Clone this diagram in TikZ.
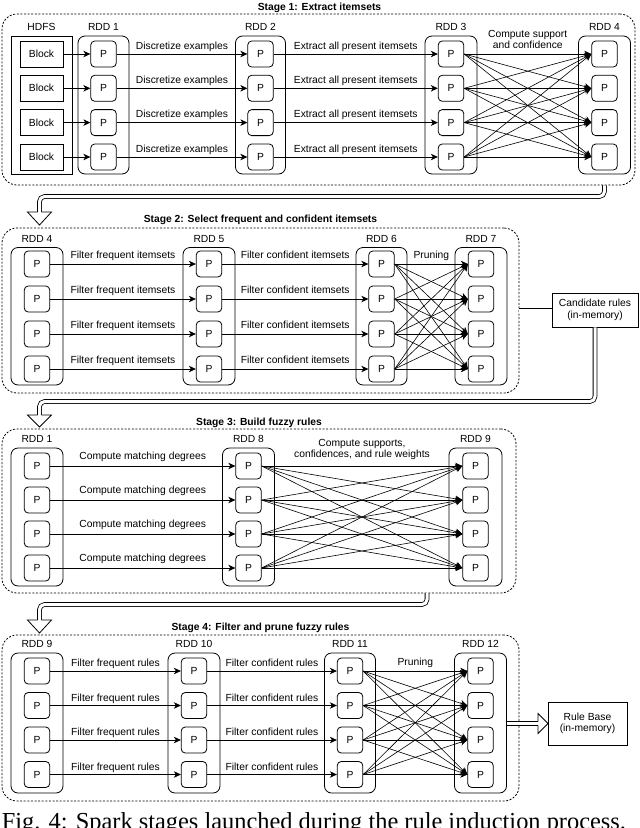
\documentclass[tikz,border=0pt]{standalone}
\usepackage{fontspec}
\setmainfont{Liberation Sans}
\newfontfamily\capfont{Liberation Serif}
\usetikzlibrary{arrows.meta,calc}
\newcommand\rddcolumn[7]{%
  \node[rddbox, minimum width=#3pt, minimum height=#5pt] (#1) at (#2,#4) {};
  \node[lbl] (#1-l) at ($(#1.north)+(0,-5)$) {#6};
  \foreach \yy [count=\ii] in {#7} {\node[pbox] (#1p\ii) at (#2,\yy) {P};}
}
\newcommand\downhead[3]{%
  \draw[fill=white, line join=miter] (#1-1.9,#2) -- (#1-12,#2) -- (#1,#3) -- (#1+12,#2) -- (#1+1.9,#2);}
\newcommand\righthead[3]{%
  \draw[fill=white, line join=miter] (#1,#2-1.9) -- (#1,#2-10) -- (#3,#2) -- (#1,#2+10) -- (#1,#2+1.9);}
\begin{document}
\begin{tikzpicture}[x=1pt,y=-1pt,
  font=\fontsize{10.3}{11.5}\selectfont, line width=0.8pt,
  pbox/.style={draw, rounded corners=4pt, minimum width=25.5pt, minimum height=26pt, inner sep=0pt},
  rddbox/.style={draw, rounded corners=7pt, inner sep=0pt},
  blockbox/.style={draw, minimum width=43pt, minimum height=26pt, inner sep=0pt},
  plainbox/.style={draw, inner sep=0pt, align=center},
  stagebox/.style={draw, dash pattern=on 2pt off 1.6pt, rounded corners=15pt, inner sep=0pt},
  lbl/.style={inner sep=0pt, anchor=base},
  title/.style={inner sep=0pt, anchor=base, font=\bfseries\fontsize{10.3}{12}\selectfont},
  flow/.style={-{Stealth[length=7pt,width=6.5pt,inset=2pt]}},
  cross/.style={line width=0.6pt, -{Stealth[length=7pt,width=6.5pt,inset=2pt]}},
  dbl/.style={double, double distance=3pt, rounded corners=5pt}]
\fill[white] (0,0) rectangle (640,828);
\useasboundingbox (0,0) rectangle (640,828);

% ---------------- Stage 1
\node[stagebox, minimum width=633pt, minimum height=171pt] (s1) at (318.5,99.5) {};
\node[title] (t1) at (319.5,10) {Stage 1: Extract itemsets};
\node[plainbox, minimum width=61pt, minimum height=138pt] (hdfs) at (41.5,105) {};
\node[lbl] (hdfs-l) at ($(hdfs.north)+(0,-5)$) {HDFS};
\foreach \y [count=\i] in {54,88.3,122.6,157} {\node[blockbox] (blk\i) at (41.5,\y) {Block};}
\rddcolumn{a1}{103.5}{51}{105}{138}{RDD 1}{54,88.3,122.6,157}
\rddcolumn{a2}{260.5}{50}{105}{138}{RDD 2}{54,88.3,122.6,157}
\rddcolumn{a3}{451}{52}{105}{138}{RDD 3}{54,88.3,122.6,157}
\rddcolumn{a4}{604.5}{52}{105}{138}{RDD 4}{54,88.3,122.6,157}
\foreach \i in {1,...,4}{
  \draw[flow] (blk\i.east) -- (a1p\i.west);
  \draw[flow] (a1p\i.east) -- node[lbl, yshift=5pt]{Discretize examples} (a2p\i.west);
  \draw[flow] (a2p\i.east) -- node[lbl, yshift=5pt]{Extract all present itemsets} (a3p\i.west);
  \foreach \j in {1,...,4}{\draw[cross] (a3p\i.east) -- (a4p\j.west);}
}
\path (a3p1.east) -- node[lbl, yshift=17pt]{Compute support} node[lbl, yshift=6pt]{and confidence} (a4p1.west);

% ---------------- Stage 2
\node[stagebox, minimum width=517pt, minimum height=165pt] (s2) at (260.5,310.5) {};
\node[title] (t2) at (260.5,222) {Stage 2: Select frequent and confident itemsets};
\rddcolumn{b1}{37}{52}{316.25}{137.5}{RDD 4}{264,299,334,369}
\rddcolumn{b2}{209}{52}{316.25}{137.5}{RDD 5}{264,299,334,369}
\rddcolumn{b3}{381.5}{51}{316.25}{137.5}{RDD 6}{264,299,334,369}
\rddcolumn{b4}{481}{52}{316.25}{137.5}{RDD 7}{264,299,334,369}
\foreach \i in {1,...,4}{
  \draw[flow] (b1p\i.east) -- node[lbl, yshift=5.5pt]{Filter frequent itemsets} (b2p\i.west);
  \draw[flow] (b2p\i.east) -- node[lbl, yshift=5.5pt]{Filter confident itemsets} (b3p\i.west);
  \foreach \j in {1,...,4}{\draw[cross] (b3p\i.east) -- (b4p\j.west);}
}
\path (b3p1.east) -- node[lbl, yshift=5.5pt]{Pruning} (b4p1.west);
\node[plainbox, minimum width=86pt, minimum height=34pt] (cand) at (595,310) {Candidate rules\\(in-memory)};
\draw[dbl] (s2.east |- cand.west) -- (cand.west);

% ---------------- Stage 3
\node[stagebox, minimum width=514pt, minimum height=164pt] (s3) at (259,511) {};
\node[title] (t3) at (259,425.5) {Stage 3: Build fuzzy rules};
\rddcolumn{c1}{37}{52}{517}{138}{RDD 1}{466,500,534,568}
\rddcolumn{c2}{248.5}{52}{517}{138}{RDD 8}{466,500,534,568}
\rddcolumn{c3}{475.5}{53}{517}{138}{RDD 9}{466,500,534,568}
\foreach \i in {1,...,4}{
  \draw[flow] (c1p\i.east) -- node[lbl, yshift=7pt]{Compute matching degrees} (c2p\i.west);
  \foreach \j in {1,...,4}{\draw[cross] (c2p\i.east) -- (c3p\j.west);}
}
\path (c2p1.east) -- node[lbl, yshift=19.5pt]{Compute supports,} node[lbl, yshift=8.5pt]{confidences, and rule weights} (c3p1.west);

% ---------------- Stage 4
\node[stagebox, minimum width=517pt, minimum height=166pt] (s4) at (260.5,718) {};
\node[title] (t4) at (260.5,630) {Stage 4: Filter and prune fuzzy rules};
\rddcolumn{d1}{37}{52}{723}{140}{RDD 9}{671,705.5,740,774.5}
\rddcolumn{d2}{194}{52}{723}{140}{RDD 10}{671,705.5,740,774.5}
\rddcolumn{d3}{350}{51}{723}{140}{RDD 11}{671,705.5,740,774.5}
\rddcolumn{d4}{480.5}{52}{723}{140}{RDD 12}{671,705.5,740,774.5}
\foreach \i in {1,...,4}{
  \draw[flow] (d1p\i.east) -- node[lbl, yshift=4.5pt]{Filter frequent rules} (d2p\i.west);
  \draw[flow] (d2p\i.east) -- node[lbl, yshift=4.5pt]{Filter confident rules} (d3p\i.west);
  \foreach \j in {1,...,4}{\draw[cross] (d3p\i.east) -- (d4p\j.west);}
}
\path (d3p1.east) -- node[lbl, yshift=5.5pt]{Pruning} (d4p1.west);
\node[plainbox, minimum width=79pt, minimum height=43pt] (rb) at (587.5,723.5) {Rule Base\\(in-memory)};

% ---------------- stage connectors (flex arrows)
\draw[dbl] (a4 |- s1.south) |- (39.5,196.5) -- (39.5,212);
\downhead{39.5}{212}{225}
\draw[dbl] (cand.south) |- (39.5,401.5) -- (39.5,415);
\downhead{39.5}{415}{427}
\coordinate (j3) at (427,593);
\draw[dbl] (j3) |- (39.5,604.5) -- (39.5,620);
\downhead{39.5}{620}{633}
\coordinate (rbh) at ($(rb.west)+(-10,0)$);
\draw[dbl] (d4.east |- rb.west) -- (rbh);
\righthead{538}{723.5}{548}

% ---------------- caption (cut by the page edge)
\node[anchor=base west, inner sep=0pt, font=\capfont\fontsize{24.4}{28}\selectfont] (cap) at (1.5,829.5) {Fig. 4: Spark stages launched during the rule induction process.};
\end{tikzpicture}
\end{document}
